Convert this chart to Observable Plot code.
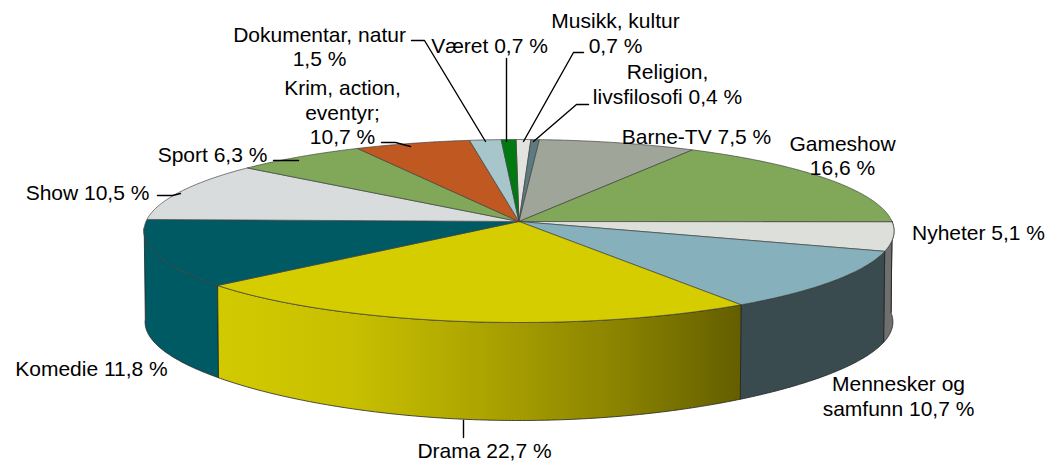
<!DOCTYPE html>
<html><head><meta charset="utf-8">
<script src="https://cdn.jsdelivr.net/npm/d3@7"></script>
<script src="https://cdn.jsdelivr.net/npm/@observablehq/plot@0.6"></script>
<style>html,body{margin:0;padding:0;background:#fff}svg{display:block}</style>
</head><body><div id="c"></div>
<script>
// Slices clockwise from 12 o'clock (drawn share read from the wedge; Krim is printed as 10,7 % but drawn about 5,5 %)
const categories = ["Musikk","Religion","Barne-TV","Gameshow","Nyheter","Mennesker","Drama","Komedie","Show","Sport","Krim","Dokumentar","Været"];
const shares = [0.7,0.4,7.5,16.6,5.1,10.7,22.7,11.8,10.5,6.3,5.5,1.5,0.7];
const topColors = ["#e2e3de","#5d7a80","#a0a59a","#80a858","#dddfdb","#86b0bb","#d5cd00","#005a63","#d8dcdc","#80a858","#c05822","#a6c6cc","#007a10"];
const wallColors = {Nyheter:"#6f6f6f",Mennesker:"#3a4b50",Komedie:"#005a63"};
const dramaWallStops = ["#d2ca00","#c8c000","#ada500","#8c8500","#645e00"];
const labelTexts = ["Dokumentar, natur\n1,5 %","Været 0,7 %","Musikk, kultur\n0,7 %","Religion,\nlivsfilosofi 0,4 %","Barne-TV 7,5 %","Gameshow\n16,6 %","Nyheter 5,1 %","Mennesker og\nsamfunn 10,7 %","Drama 22,7 %","Komedie 11,8 %","Show 10,5 %","Sport 6,3 %","Krim, action,\neventyr;\n10,7 %"];
const labelX = [319,489,615,667,696,842,978,898,484,91,87,212,342];
const labelY = [45.5,44,32,83,135,154.5,231,395,449.5,367,191,153,111];
const leaders = [
  [[411,40],[424,40],[485,141]],
  [[506,58],[506,141]],
  [[583,52],[573,52],[523,141]],
  [[588,104],[576,104],[533,141]],
  [[381,142],[395,142],[410,146]],
  [[273,160],[298,160]],
  [[157,195],[172,195],[180,193]],
  [[463,420],[463,437]]
];

const W = 1047, H = 462, CX = 518.5, CY = 221, A = 373, B = 90.5, K = 0.104;
const ux = px => (px - CX) / A, uy = py => (CY - py) / B;
const rad = d => d * Math.PI / 180;
const rim = (deg, low = false) => {
  const X = Math.sin(rad(deg)), Y = Math.cos(rad(deg)), w = 1 + K * Y;
  if (!low) return {x: X / w, y: Y / w};
  const drop = 91 + 7 * Y ** 4;
  return {x: 0.997 * X / w, y: Y / w - drop / B};
};
const apex = {x: 0, y: 0};
const START = -0.5;
let acc = START;
const slices = categories.map((name, i) => {
  const a0 = acc, a1 = acc + shares[i] * 3.6; acc = a1;
  return {name, i, a0, a1};
});
const sample = (a0, a1) => d3.range(0, 1.0001, 1 / Math.max(2, Math.ceil((a1 - a0) * 2))).map(f => a0 + (a1 - a0) * f);

const topRows = slices.flatMap(s => {
  const pts = [apex, ...sample(s.a0, s.a1).map(a => rim(a)), apex];
  return pts.map(p => ({...p, id: s.name, color: topColors[s.i]}));
});

const front = slices.map(s => ({...s, lo: Math.max(s.a0, 90), hi: Math.min(s.a1, 266)})).filter(s => s.hi > s.lo);
const wallPoly = (lo, hi, id, color) => {
  const as = sample(lo, hi);
  return [...as.map(a => rim(a)), ...as.slice().reverse().map(a => rim(a, true)), rim(lo)].map(p => ({...p, id, color}));
};
const flatWalls = front.filter(s => s.name !== "Drama").flatMap(s => wallPoly(s.lo, s.hi, s.name, wallColors[s.name] || topColors[s.i]));
const dramaWall = front.filter(s => s.name === "Drama").flatMap(s => wallPoly(s.lo, s.hi, s.name, "none"));

const leaderRows = leaders.flatMap((l, i) => l.map(([x, y]) => ({x: ux(x), y: uy(y), id: i})));
const labelRows = labelTexts.map((t, i) => ({t, x: ux(labelX[i]), y: uy(labelY[i])}));

const gradient = () => {
  const defs = d3.create("svg:defs");
  const g = defs.append("linearGradient").attr("id", "dramaWall");
  dramaWallStops.forEach((c, i) => g.append("stop").attr("offset", i / (dramaWallStops.length - 1)).attr("stop-color", c));
  return defs.node();
};

const chart = Plot.plot({
  width: W, height: H, margin: 0,
  x: {domain: [ux(0), ux(W)], range: [0, W], axis: null},
  y: {domain: [uy(H), uy(0)], range: [H, 0], axis: null},
  color: {type: "identity"},
  marks: [
    gradient,
    Plot.line(flatWalls, {x: "x", y: "y", z: "id", fill: "color", stroke: "#222", strokeWidth: 0.8}),
    Plot.line(dramaWall, {x: "x", y: "y", z: "id", fill: "url(#dramaWall)", stroke: "#222", strokeWidth: 0.8}),
    Plot.line(topRows, {x: "x", y: "y", z: "id", fill: "color", stroke: "#444", strokeWidth: 0.7}),
    Plot.line(leaderRows, {x: "x", y: "y", z: "id", stroke: "#000", strokeWidth: 1.4}),
    Plot.text(labelRows, {x: "x", y: "y", text: "t", fill: "#000", fontSize: 21, lineHeight: 1.19, textAnchor: "middle", lineAnchor: "middle", fontFamily: "'Liberation Sans', Arial, sans-serif"})
  ]
});
document.getElementById("c").append(chart);
</script></body></html>
